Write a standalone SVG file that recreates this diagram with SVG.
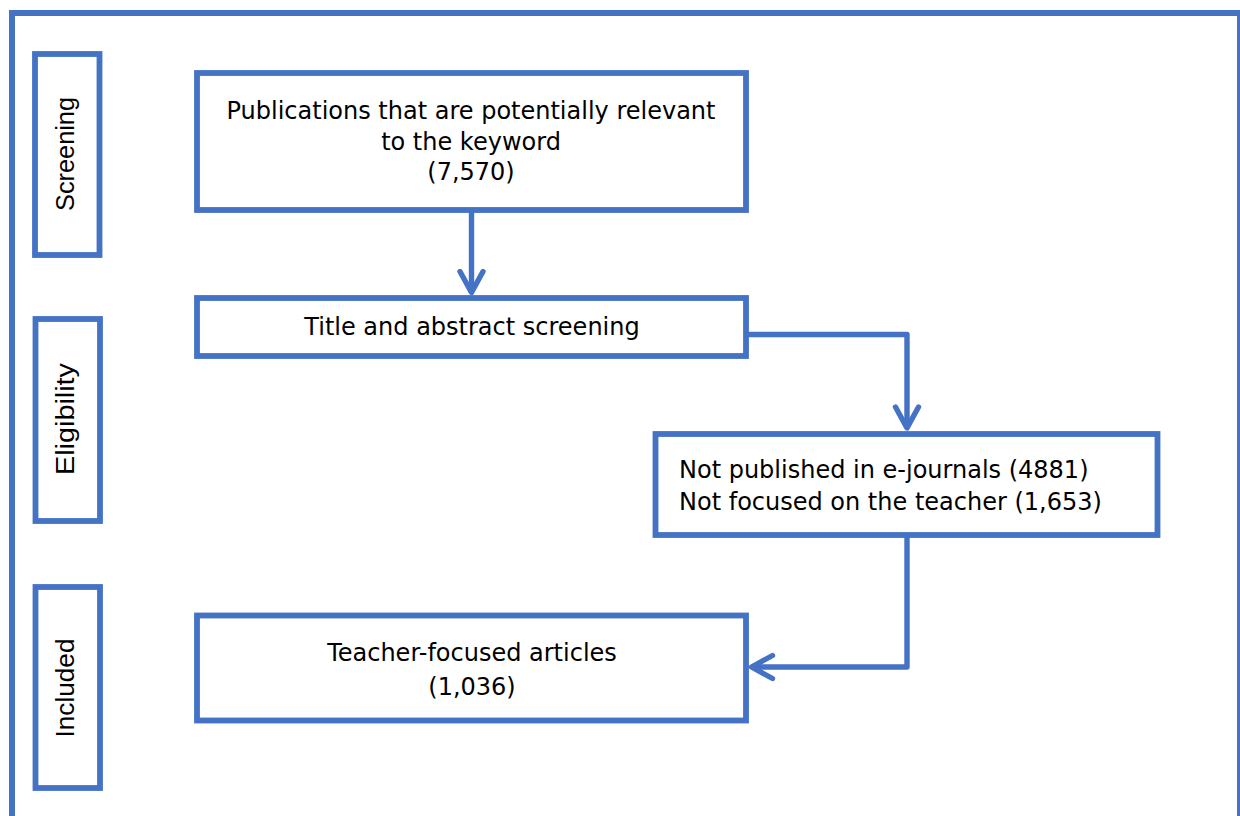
<svg xmlns="http://www.w3.org/2000/svg" width="1240" height="816" viewBox="0 0 1240 816">
<style>
.box{fill:#fff;stroke:#4472C4;stroke-width:5.8}
.con{fill:none;stroke:#4472C4;stroke-width:5.4;stroke-linejoin:round}
.t{font-family:"DejaVu Sans",Verdana,sans-serif;font-size:24px;fill:#000}
.c{text-anchor:middle}
.s{font-family:"Liberation Sans",Arial,sans-serif;font-size:26px;fill:#000;text-anchor:middle}
</style>
<defs>
<marker id="arr" markerUnits="userSpaceOnUse" viewBox="-26 -14 30 28" refX="0" refY="0" markerWidth="30" markerHeight="28" orient="auto" overflow="visible">
<path d="M-21,-11.5 L0,0 L-21,11.5" fill="none" stroke="#4472C4" stroke-width="5.4" stroke-linecap="round" stroke-linejoin="round"/>
</marker>
</defs>
<rect x="0" y="0" width="1240" height="816" fill="#fff"/>
<rect id="frame" x="12" y="13" width="1228" height="860" fill="none" stroke="#4472C4" stroke-width="6"/>
<g id="label-screening">
<rect class="box" x="35" y="54" width="64.5" height="201"/>
<text class="s" transform="translate(74,154) rotate(-90)" textLength="114" lengthAdjust="spacingAndGlyphs">Screening</text>
</g>
<g id="label-eligibility">
<rect class="box" x="35.5" y="319" width="64.5" height="202"/>
<text class="s" transform="translate(74,419) rotate(-90)" textLength="112" lengthAdjust="spacingAndGlyphs">Eligibility</text>
</g>
<g id="label-included">
<rect class="box" x="35.5" y="587" width="64.5" height="201"/>
<text class="s" transform="translate(74,688) rotate(-90)" textLength="99" lengthAdjust="spacingAndGlyphs">Included</text>
</g>
<g id="connectors">
<path class="con" d="M471.5,210 V292.5" marker-end="url(#arr)"/>
<path class="con" d="M746,334.5 H907 V428" marker-end="url(#arr)"/>
<path class="con" d="M907,535 V667 H751.5" marker-end="url(#arr)"/>
</g>
<g id="node-publications">
<rect class="box" x="197" y="73" width="549" height="137"/>
<text class="t c" x="471" y="119">Publications that are potentially relevant</text>
<text class="t c" x="471" y="150">to the keyword</text>
<text class="t c" x="471" y="180">(7,570)</text>
</g>
<g id="node-title">
<rect class="box" x="197" y="298" width="549" height="58"/>
<text class="t c" x="472" y="335">Title and abstract screening</text>
</g>
<g id="node-excluded">
<rect class="box" x="655.5" y="434" width="502" height="101"/>
<text class="t" x="679" y="478">Not published in e-journals (4881)</text>
<text class="t" x="679" y="510">Not focused on the teacher (1,653)</text>
</g>
<g id="node-included">
<rect class="box" x="197" y="615.5" width="549" height="105"/>
<text class="t c" x="472" y="661">Teacher-focused articles</text>
<text class="t c" x="472" y="695">(1,036)</text>
</g>
</svg>
